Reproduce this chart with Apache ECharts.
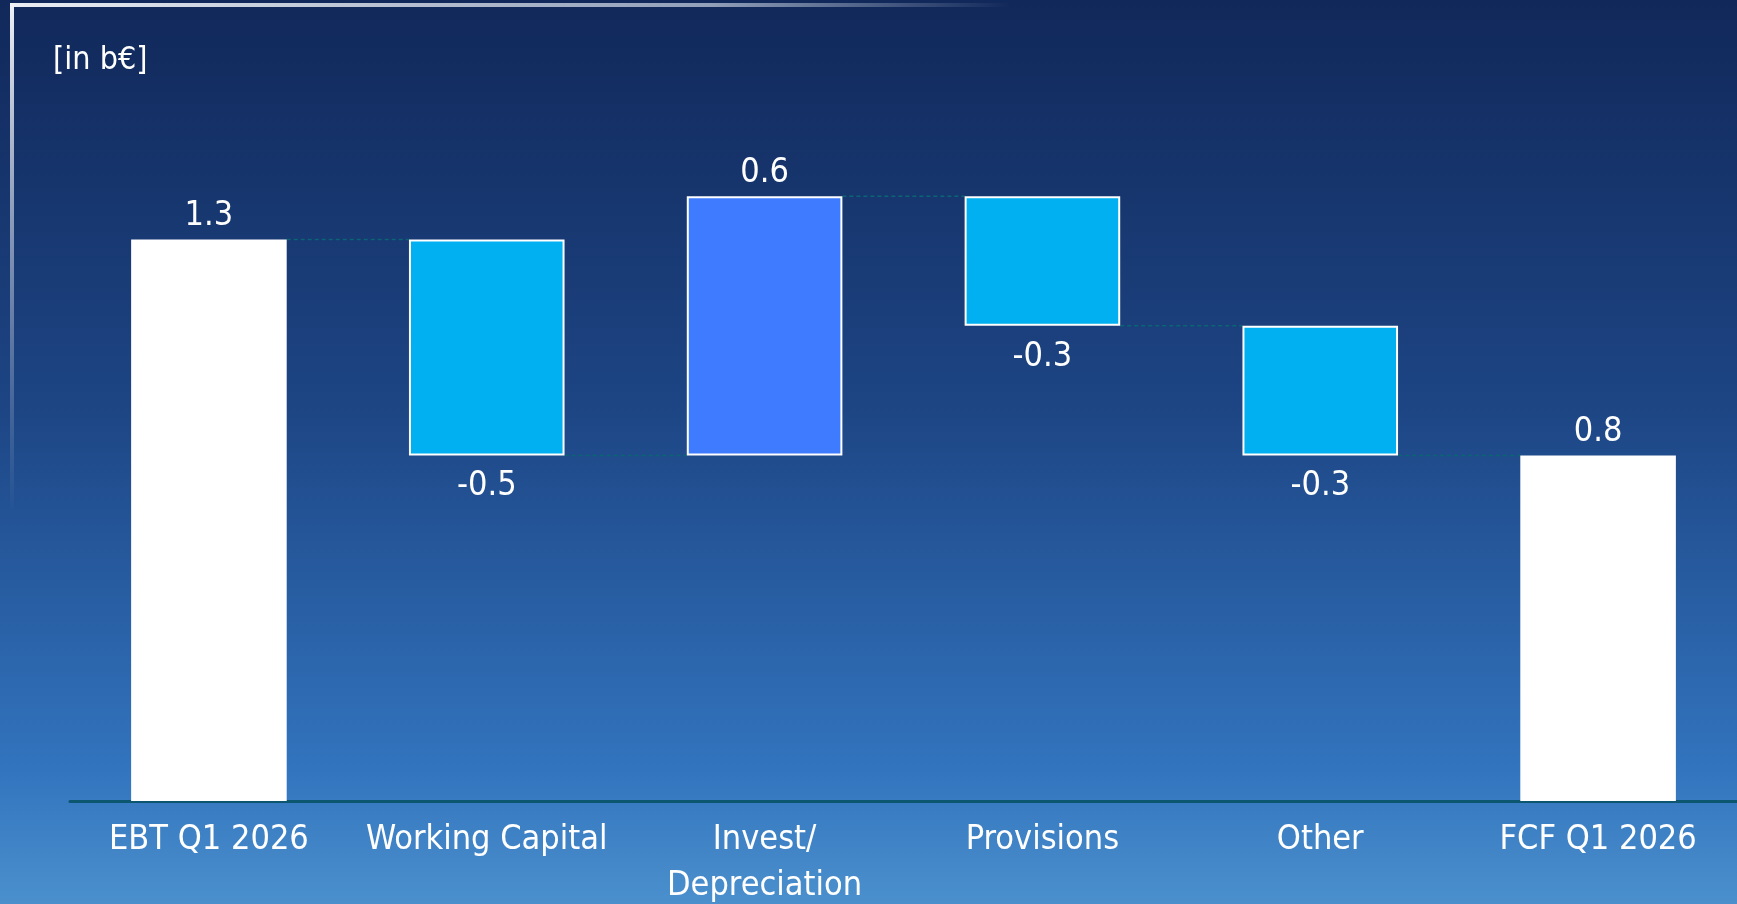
<!DOCTYPE html>
<html>
<head>
<meta charset="utf-8">
<script src="https://cdn.jsdelivr.net/npm/echarts@6/dist/echarts.min.js"></script>
<style>
  html, body { margin: 0; padding: 0; }
  #chart { width: 1737px; height: 904px; }
</style>
</head>
<body>
<div id="chart"></div>
<script>
// waterfall data
var categories = ['EBT Q1 2026', 'Working Capital', 'Invest/\nDepreciation', 'Provisions', 'Other', 'FCF Q1 2026'];
var values = [1.3, -0.5, 0.6, -0.3, -0.3, 0.8];
var isTotal = [true, false, false, false, false, true];

var FONT = '"DejaVu Sans Condensed", "DejaVu Sans", sans-serif';
var BAR_PCT = 0.56;

var baseData = [];
var barData = [];
var levels = []; // running level after each bar, for connectors
var running = 0;
for (var i = 0; i < values.length; i++) {
  var v = values[i];
  var color, border = 0, pos = 'top', dist = 6;
  if (isTotal[i]) {
    running = v;
    baseData.push(0);
    barData.push(v);
    color = '#ffffff';
  } else {
    var next = running + v;
    baseData.push(Math.min(running, next));
    barData.push(Math.abs(v));
    running = next;
    color = v < 0 ? '#00b0f0' : '#3f7bff';
    border = 2;
    if (v < 0) { pos = 'bottom'; dist = 14; }
  }
  levels.push(running);
  barData[i] = {
    value: barData[i],
    raw: v,
    itemStyle: { color: color, borderColor: '#ffffff', borderWidth: border },
    label: { position: pos, distance: dist }
  };
}

var connectors = [];
for (var j = 0; j < levels.length - 1; j++) {
  connectors.push([j, levels[j]]);
}

var chart = echarts.init(document.getElementById('chart'));
chart.setOption({
  backgroundColor: new echarts.graphic.LinearGradient(0, 0, 0, 1, [
    { offset: 0, color: '#11285a' },
    { offset: 0.45, color: '#1d4584' },
    { offset: 0.85, color: '#3274be' },
    { offset: 1, color: '#4b90cd' }
  ]),
  animation: false,
  title: {
    text: '[in b€]',
    left: 48,
    top: 40,
    textStyle: { color: '#ffffff', fontSize: 32, fontWeight: 'normal', fontFamily: FONT }
  },
  graphic: [
    { // top frame line
      type: 'rect',
      shape: { x: 10, y: 3, width: 1000, height: 4 },
      style: {
        fill: new echarts.graphic.LinearGradient(0, 0, 1, 0, [
          { offset: 0, color: 'rgba(235,238,244,1)' },
          { offset: 0.7, color: 'rgba(200,210,225,0.7)' },
          { offset: 1, color: 'rgba(200,210,225,0)' }
        ])
      },
      silent: true
    },
    { // left frame line
      type: 'rect',
      shape: { x: 10, y: 3, width: 4, height: 510 },
      style: {
        fill: new echarts.graphic.LinearGradient(0, 0, 0, 1, [
          { offset: 0, color: 'rgba(240,242,246,1)' },
          { offset: 0.5, color: 'rgba(190,200,220,0.6)' },
          { offset: 1, color: 'rgba(190,200,220,0)' }
        ])
      },
      silent: true
    }
  ],
  grid: { left: 70, right: 0, top: 153, bottom: 103, outerBoundsMode: 'none', containLabel: false },
  xAxis: {
    type: 'category',
    data: categories,
    axisLine: { show: true, lineStyle: { color: '#0c5670', width: 3 } },
    axisTick: { show: false },
    axisLabel: {
      color: '#ffffff',
      fontSize: 34,
      fontFamily: FONT,
      lineHeight: 46,
      margin: 16,
      interval: 0
    }
  },
  yAxis: {
    type: 'value',
    min: 0,
    max: 1.5,
    show: false,
    splitLine: { show: false }
  },
  series: [
    {
      type: 'custom',
      name: 'connector',
      z: 1,
      silent: true,
      renderItem: function (params, api) {
        var idx = api.value(0);
        var lvl = api.value(1);
        var p0 = api.coord([idx, lvl]);
        var p1 = api.coord([idx + 1, lvl]);
        var half = api.size([1, 0])[0] * BAR_PCT / 2;
        return {
          type: 'line',
          shape: { x1: p0[0] + half, y1: p0[1], x2: p1[0] - half, y2: p1[1] },
          style: { stroke: '#0a6474', lineWidth: 1.5, lineDash: [4, 3] }
        };
      },
      data: connectors
    },
    {
      type: 'bar',
      name: 'base',
      stack: 'wf',
      barWidth: (BAR_PCT * 100) + '%',
      itemStyle: { color: 'transparent' },
      silent: true,
      data: baseData,
      z: 2
    },
    {
      type: 'bar',
      name: 'value',
      stack: 'wf',
      barWidth: (BAR_PCT * 100) + '%',
      z: 3,
      label: {
        show: true,
        color: '#ffffff',
        fontSize: 34,
        fontFamily: FONT,
        formatter: function (p) { return p.data.raw.toFixed(1); }
      },
      data: barData
    }
  ]
});
</script>
</body>
</html>
